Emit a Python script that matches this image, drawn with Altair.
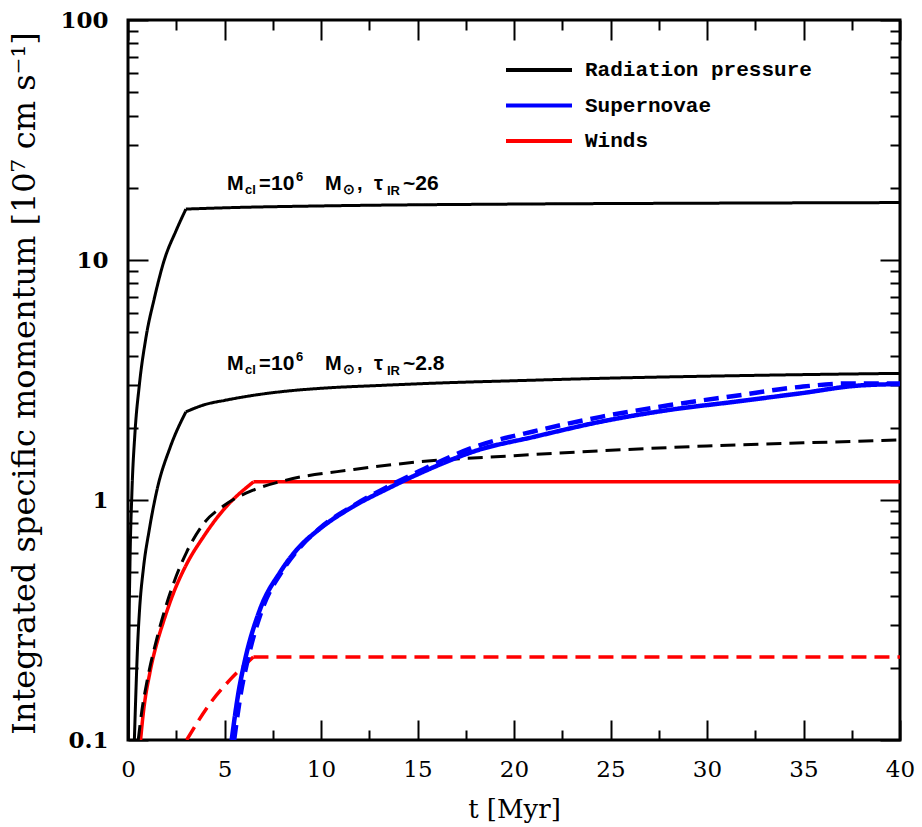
import altair as alt
import pandas as pd

# Integrated specific momentum [1e7 cm/s] versus time [Myr]
# Radiation pressure, M_cl = 1e6 Msun, tau_IR ~ 26
rad_hi_t = [0.019, 0.05, 0.1, 0.2, 0.36, 0.585, 0.93, 1.36, 1.88, 2.5, 3.0, 5, 10, 20, 30, 40]
rad_hi_v = [0.1, 0.265, 0.53, 1.06, 1.9, 3.0, 4.75, 6.9, 10.0, 13.3, 16.3, 16.5, 16.8, 17.1, 17.25, 17.35]

# Radiation pressure, M_cl = 1e6 Msun, tau_IR ~ 2.8
rad_lo_t = [0.33, 0.4, 0.5, 0.6, 0.8, 1.1, 1.5, 2.2, 3.0, 4, 5, 6.5, 8, 10, 13, 16, 20, 25, 30, 35, 40]
rad_lo_v = [0.1, 0.15, 0.25, 0.35, 0.52, 0.75, 1.1, 1.67, 2.33, 2.5, 2.6, 2.73, 2.83, 2.92, 3.0,
            3.07, 3.14, 3.22, 3.28, 3.33, 3.37]

# Radiation pressure, dashed case
rad_dash_t = [0.53, 0.71, 1.0, 1.5, 2.0, 2.5, 3.04, 3.9, 4.94, 6.5, 8.2, 11.7, 15, 20, 25, 30, 35, 40]
rad_dash_v = [0.1, 0.131, 0.178, 0.266, 0.369, 0.482, 0.607, 0.794, 0.944, 1.10, 1.21, 1.34, 1.44,
              1.53, 1.61, 1.68, 1.73, 1.78]

# Supernovae
sn_t = [5.37, 5.72, 6.06, 6.84, 7.88, 8.74, 9.95, 11.67, 13.4, 15.1, 18.2, 21, 24.5, 28, 31.5,
        34.8, 37.9, 40]
sn_v = [0.1, 0.157, 0.215, 0.35, 0.50, 0.62, 0.76, 0.94, 1.11, 1.29, 1.62, 1.83, 2.12, 2.37, 2.57,
        2.78, 3.0, 3.04]
sn_dash_t = [5.5, 5.85, 6.2, 6.95, 7.95, 8.8, 10, 11.7, 13.4, 15.1, 18.2, 21, 24.5, 28, 31.5, 34.8,
             37.4, 40]
sn_dash_v = [0.1, 0.157, 0.215, 0.35, 0.50, 0.62, 0.77, 0.95, 1.13, 1.32, 1.69, 1.93, 2.22, 2.48,
             2.72, 2.96, 3.06, 3.06]

# Winds
wind_t = [0.65, 0.8, 1.14, 1.5, 1.83, 2.4, 3.04, 3.9, 4.94, 6.5, 40]
wind_v = [0.1, 0.131, 0.192, 0.254, 0.31, 0.418, 0.541, 0.701, 0.909, 1.19, 1.19]
wind_dash_t = [3.04, 4.25, 5.28, 6.5, 40]
wind_dash_v = [0.1, 0.142, 0.178, 0.222, 0.222]

components = ["Radiation pressure", "Supernovae", "Winds"]
colors = ["#000000", "#0000ff", "#ff0000"]

# Cluster annotations: anchor (t, value) and tau_IR text
ann_t = [5.13, 5.13]
ann_v = [19.6, 3.48]
ann_tau = ["26", "2.8"]

x_major = [0, 5, 10, 15, 20, 25, 30, 35, 40]
x_minor = [2.5, 7.5, 12.5, 17.5, 22.5, 27.5, 32.5, 37.5]
y_major = [0.1, 1, 10, 100]
y_minor = [m * d for d in (0.1, 1, 10) for m in range(2, 10)]

# (name, component, line style, times, values, time of the kink or None)
curves = [
    ("rad_hi", components[0], "solid", rad_hi_t, rad_hi_v, 3.0),
    ("rad_lo", components[0], "solid", rad_lo_t, rad_lo_v, 3.0),
    ("rad_dash", components[0], "dashed", rad_dash_t, rad_dash_v, None),
    ("sn", components[1], "solid", sn_t, sn_v, None),
    ("sn_dash", components[1], "dashed", sn_dash_t, sn_dash_v, None),
    ("wind", components[2], "solid", wind_t, wind_v, 6.5),
    ("wind_dash", components[2], "dashed", wind_dash_t, wind_dash_v, 6.5),
]
rows = []
for name, comp, style, ts, vs, kink in curves:
    for t, v in zip(ts, vs):
        base = {"t": t, "v": v, "component": comp, "style": style}
        if kink is None:
            rows.append({**base, "curve": name})
            continue
        # split at the kink so the smooth interpolation keeps the corner sharp
        if t <= kink:
            rows.append({**base, "curve": name + "_a"})
        if t >= kink:
            rows.append({**base, "curve": name + "_b"})
df = pd.DataFrame(rows)

W, H = 772, 720
x_scale = alt.Scale(domain=[0, 40], nice=False, zero=False)
y_scale = alt.Scale(type="log", domain=[0.1, 100], nice=False)

color = alt.Color(
    "component:N",
    scale=alt.Scale(domain=components, range=colors),
    legend=alt.Legend(
        title=None, orient="none", legendX=398, legendY=37, padding=0,
        symbolType="M-3,0H3", symbolSize=484, symbolStrokeWidth=4,
        labelFont="Liberation Mono", labelFontWeight="bold", labelFontSize=21,
        labelColor="black", labelOffset=33, rowPadding=12.5, labelLimit=0,
    ),
)
dash = alt.StrokeDash(
    "style:N",
    scale=alt.Scale(domain=["solid", "dashed"], range=[[1, 0], [15, 8]]),
    legend=None,
)

label_x_axis = alt.Axis(
    orient="bottom", values=x_major, format="d", ticks=False, tickSize=0, domain=False, grid=False,
    labelFont="DejaVu Serif", labelFontSize=23, labelColor="black", labelPadding=18, labelFlush=False,
    title="t [Myr]", titleFont="DejaVu Serif", titleFontSize=26, titleFontWeight="normal",
    titleColor="black", titleX=386, titleY=77, titleAlign="center", titleBaseline="alphabetic",
)
label_y_axis = alt.Axis(
    orient="left", values=y_major, format="~g", ticks=False, tickSize=0, domain=False, grid=False,
    labelFont="DejaVu Serif", labelFontWeight="bold", labelFontSize=23, labelColor="black",
    labelPadding=20, labelFlush=False,
    title="Integrated specific momentum [10⁷ cm s⁻¹]", titleFont="DejaVu Serif",
    titleFontSize=32, titleFontWeight="normal", titleColor="black",
    titleX=-104, titleY=363, titleAlign="center", titleBaseline="middle", titleAngle=-90,
)


def line_layer(comp, width, with_axes=False):
    sub = df[df["component"] == comp]
    return alt.Chart(sub).mark_line(
        clip=True, strokeWidth=width, strokeCap="butt", interpolate="monotone"
    ).encode(
        x=alt.X("t:Q", scale=x_scale, axis=label_x_axis if with_axes else None),
        y=alt.Y("v:Q", scale=y_scale, axis=label_y_axis if with_axes else None),
        color=color,
        strokeDash=dash,
        detail="curve:N",
    )


def tick_layer(x_orient, y_orient, xs, ys, length):
    common = dict(tickSize=length, offset=-length, labels=False, domain=False, grid=False,
                  title=None, tickWidth=2, tickColor="black")
    return alt.Chart(df).mark_point(opacity=0).encode(
        x=alt.X("t:Q", scale=x_scale, axis=alt.Axis(orient=x_orient, values=xs, **common)),
        y=alt.Y("v:Q", scale=y_scale, axis=alt.Axis(orient=y_orient, values=ys, **common)),
    )


def cluster_label(t0, v0, tau):
    pieces = [
        ("M", 0, 0, 20), ("cl", 18, 4, 13), ("=", 32, 0, 20), ("10", 44, 0, 21),
        ("6", 69, -9, 13), ("M", 98, 0, 20), ("⊙", 116, 4, 14), (",", 130, 0, 20),
        ("τ", 147, 0, 20), ("IR", 160, 5, 13), ("~" + tau, 176, 0, 21),
    ]
    anchor = pd.DataFrame({"t": [t0], "v": [v0]})
    out = []
    for txt, dx, dy, size in pieces:
        out.append(
            alt.Chart(anchor).mark_text(
                text=txt, dx=dx, dy=dy, fontSize=size, font="Liberation Sans",
                fontWeight="bold", align="left", baseline="alphabetic", color="black",
            ).encode(
                x=alt.X("t:Q", scale=x_scale, axis=None),
                y=alt.Y("v:Q", scale=y_scale, axis=None),
            )
        )
    return out


layers = [
    tick_layer("bottom", "left", x_major, y_major, 20),
    tick_layer("bottom", "left", x_minor, y_minor, 10),
    tick_layer("top", "right", x_major, y_major, 20),
    tick_layer("top", "right", x_minor, y_minor, 10),
    line_layer("Winds", 3.5, with_axes=True),
    line_layer("Radiation pressure", 3),
    line_layer("Supernovae", 4.5),
]
for t0, v0, tau in zip(ann_t, ann_v, ann_tau):
    layers += cluster_label(t0, v0, tau)

chart = (
    alt.layer(*layers)
    .resolve_axis(x="independent", y="independent")
    .properties(
        width=W, height=H, autosize="none",
        padding={"left": 128, "top": 20, "right": 22, "bottom": 87},
        background="white",
    )
    .configure_view(stroke="black", strokeWidth=3)
)

chart.save("out.html", embed_options={"renderer": "svg", "actions": False})
